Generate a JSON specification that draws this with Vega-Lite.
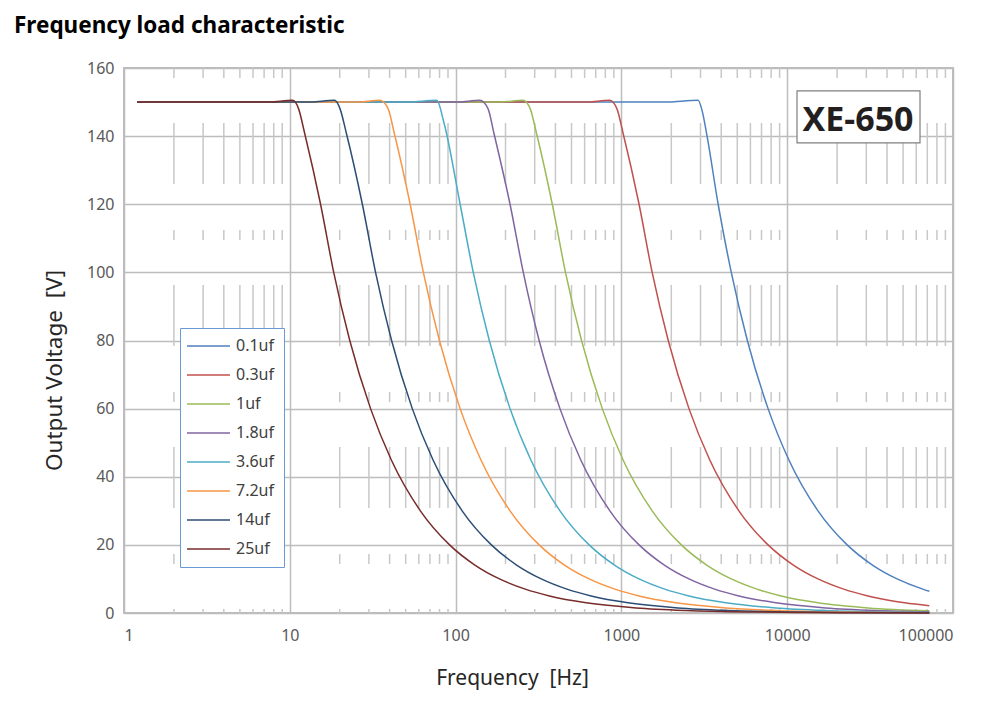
{
  "$schema": "https://vega.github.io/schema/vega-lite/v6.json",
  "autosize": {"type": "none"},
  "padding": {"left": 124, "top": 68, "right": 49, "bottom": 94},
  "width": 829,
  "height": 545,
  "background": "white",
  "title": {
    "text": "Frequency load characteristic",
    "anchor": "start",
    "frame": "group",
    "dx": -110,
    "offset": 23,
    "fontSize": 22.5,
    "fontWeight": "bold",
    "font": "Noto Sans",
    "color": "#000000"
  },
  "layer": [
    {
      "data": {"values": [
        {"m": 2}, {"m": 3}, {"m": 4}, {"m": 5}, {"m": 6}, {"m": 7}, {"m": 8}, {"m": 9},
        {"m": 20}, {"m": 30}, {"m": 40}, {"m": 50}, {"m": 60}, {"m": 70}, {"m": 80}, {"m": 90},
        {"m": 200}, {"m": 300}, {"m": 400}, {"m": 500}, {"m": 600}, {"m": 700}, {"m": 800}, {"m": 900},
        {"m": 2000}, {"m": 3000}, {"m": 4000}, {"m": 5000}, {"m": 6000}, {"m": 7000}, {"m": 8000}, {"m": 9000},
        {"m": 20000}, {"m": 30000}, {"m": 40000}, {"m": 50000}, {"m": 60000}, {"m": 70000}, {"m": 80000}, {"m": 90000}
      ]},
      "mark": {"type": "rule", "color": "#C8C8C8", "strokeWidth": 1.5, "strokeDash": [10, 45, 61, 46]},
      "encoding": {
        "x": {"field": "m", "type": "quantitative", "scale": {"type": "log", "domain": [1, 100000], "nice": false}}
      }
    },
    {
      "data": {"values": [
        {"c": "0.1uf", "f": 1.2, "v": 150}, {"c": "0.1uf", "f": 1840, "v": 150}, {"c": "0.1uf", "f": 2900, "v": 150.5},
        {"c": "0.1uf", "f": 3067, "v": 147.5}, {"c": "0.1uf", "f": 3286, "v": 140}, {"c": "0.1uf", "f": 3833, "v": 120},
        {"c": "0.1uf", "f": 4600, "v": 100}, {"c": "0.1uf", "f": 5750, "v": 80}, {"c": "0.1uf", "f": 7667, "v": 60},
        {"c": "0.1uf", "f": 10222, "v": 45}, {"c": "0.1uf", "f": 15333, "v": 30}, {"c": "0.1uf", "f": 23000, "v": 20},
        {"c": "0.1uf", "f": 32857, "v": 14}, {"c": "0.1uf", "f": 46000, "v": 10}, {"c": "0.1uf", "f": 65714, "v": 7},
        {"c": "0.1uf", "f": 72000, "v": 6.39},

        {"c": "0.3uf", "f": 1.2, "v": 150}, {"c": "0.3uf", "f": 613, "v": 150}, {"c": "0.3uf", "f": 848, "v": 150.5},
        {"c": "0.3uf", "f": 940, "v": 148}, {"c": "0.3uf", "f": 1022, "v": 141}, {"c": "0.3uf", "f": 1278, "v": 120},
        {"c": "0.3uf", "f": 1533, "v": 100}, {"c": "0.3uf", "f": 1917, "v": 80}, {"c": "0.3uf", "f": 2556, "v": 60},
        {"c": "0.3uf", "f": 3407, "v": 45}, {"c": "0.3uf", "f": 5111, "v": 30}, {"c": "0.3uf", "f": 7667, "v": 20},
        {"c": "0.3uf", "f": 10952, "v": 14}, {"c": "0.3uf", "f": 15333, "v": 10}, {"c": "0.3uf", "f": 21905, "v": 7},
        {"c": "0.3uf", "f": 30667, "v": 5}, {"c": "0.3uf", "f": 51111, "v": 3}, {"c": "0.3uf", "f": 72000, "v": 2.13},

        {"c": "1uf", "f": 1.2, "v": 150}, {"c": "1uf", "f": 184, "v": 150}, {"c": "1uf", "f": 255, "v": 150.5},
        {"c": "1uf", "f": 282, "v": 148}, {"c": "1uf", "f": 307, "v": 141}, {"c": "1uf", "f": 383, "v": 120},
        {"c": "1uf", "f": 460, "v": 100}, {"c": "1uf", "f": 575, "v": 80}, {"c": "1uf", "f": 767, "v": 60},
        {"c": "1uf", "f": 1022, "v": 45}, {"c": "1uf", "f": 1533, "v": 30}, {"c": "1uf", "f": 2300, "v": 20},
        {"c": "1uf", "f": 3286, "v": 14}, {"c": "1uf", "f": 4600, "v": 10}, {"c": "1uf", "f": 6571, "v": 7},
        {"c": "1uf", "f": 9200, "v": 5}, {"c": "1uf", "f": 15333, "v": 3}, {"c": "1uf", "f": 30667, "v": 1.5},
        {"c": "1uf", "f": 72000, "v": 0.64},

        {"c": "1.8uf", "f": 1.2, "v": 150}, {"c": "1.8uf", "f": 102, "v": 150}, {"c": "1.8uf", "f": 140, "v": 150.5},
        {"c": "1.8uf", "f": 157, "v": 148}, {"c": "1.8uf", "f": 170, "v": 141}, {"c": "1.8uf", "f": 213, "v": 120},
        {"c": "1.8uf", "f": 256, "v": 100}, {"c": "1.8uf", "f": 319, "v": 80}, {"c": "1.8uf", "f": 426, "v": 60},
        {"c": "1.8uf", "f": 568, "v": 45}, {"c": "1.8uf", "f": 852, "v": 30}, {"c": "1.8uf", "f": 1278, "v": 20},
        {"c": "1.8uf", "f": 1825, "v": 14}, {"c": "1.8uf", "f": 2556, "v": 10}, {"c": "1.8uf", "f": 3651, "v": 7},
        {"c": "1.8uf", "f": 5111, "v": 5}, {"c": "1.8uf", "f": 8519, "v": 3}, {"c": "1.8uf", "f": 17037, "v": 1.5},
        {"c": "1.8uf", "f": 34074, "v": 0.75}, {"c": "1.8uf", "f": 72000, "v": 0.36},

        {"c": "3.6uf", "f": 1.2, "v": 150}, {"c": "3.6uf", "f": 51, "v": 150}, {"c": "3.6uf", "f": 77, "v": 150.5},
        {"c": "3.6uf", "f": 85, "v": 144}, {"c": "3.6uf", "f": 106.5, "v": 120}, {"c": "3.6uf", "f": 127.8, "v": 100},
        {"c": "3.6uf", "f": 159.7, "v": 80}, {"c": "3.6uf", "f": 213, "v": 60}, {"c": "3.6uf", "f": 284, "v": 45},
        {"c": "3.6uf", "f": 426, "v": 30}, {"c": "3.6uf", "f": 639, "v": 20}, {"c": "3.6uf", "f": 913, "v": 14},
        {"c": "3.6uf", "f": 1278, "v": 10}, {"c": "3.6uf", "f": 1825, "v": 7}, {"c": "3.6uf", "f": 2556, "v": 5},
        {"c": "3.6uf", "f": 4259, "v": 3}, {"c": "3.6uf", "f": 8519, "v": 1.5}, {"c": "3.6uf", "f": 17037, "v": 0.75},
        {"c": "3.6uf", "f": 42593, "v": 0.3}, {"c": "3.6uf", "f": 72000, "v": 0.18},

        {"c": "7.2uf", "f": 1.2, "v": 150}, {"c": "7.2uf", "f": 25.6, "v": 150}, {"c": "7.2uf", "f": 34.9, "v": 150.5},
        {"c": "7.2uf", "f": 39.2, "v": 148}, {"c": "7.2uf", "f": 42.6, "v": 141}, {"c": "7.2uf", "f": 53.2, "v": 120},
        {"c": "7.2uf", "f": 63.9, "v": 100}, {"c": "7.2uf", "f": 79.9, "v": 80}, {"c": "7.2uf", "f": 106.5, "v": 60},
        {"c": "7.2uf", "f": 142, "v": 45}, {"c": "7.2uf", "f": 213, "v": 30}, {"c": "7.2uf", "f": 319, "v": 20},
        {"c": "7.2uf", "f": 456, "v": 14}, {"c": "7.2uf", "f": 639, "v": 10}, {"c": "7.2uf", "f": 913, "v": 7},
        {"c": "7.2uf", "f": 1278, "v": 5}, {"c": "7.2uf", "f": 2130, "v": 3}, {"c": "7.2uf", "f": 4259, "v": 1.5},
        {"c": "7.2uf", "f": 8519, "v": 0.75}, {"c": "7.2uf", "f": 21296, "v": 0.3}, {"c": "7.2uf", "f": 42593, "v": 0.15},
        {"c": "7.2uf", "f": 72000, "v": 0.09},

        {"c": "14uf", "f": 1.2, "v": 150}, {"c": "14uf", "f": 13.1, "v": 150}, {"c": "14uf", "f": 18.6, "v": 150.5},
        {"c": "14uf", "f": 20.1, "v": 148}, {"c": "14uf", "f": 21.9, "v": 141}, {"c": "14uf", "f": 27.4, "v": 120},
        {"c": "14uf", "f": 32.9, "v": 100}, {"c": "14uf", "f": 41.1, "v": 80}, {"c": "14uf", "f": 54.8, "v": 60},
        {"c": "14uf", "f": 73, "v": 45}, {"c": "14uf", "f": 109.5, "v": 30}, {"c": "14uf", "f": 164.3, "v": 20},
        {"c": "14uf", "f": 234.6, "v": 14}, {"c": "14uf", "f": 328.6, "v": 10}, {"c": "14uf", "f": 469.3, "v": 7},
        {"c": "14uf", "f": 657, "v": 5}, {"c": "14uf", "f": 1095, "v": 3}, {"c": "14uf", "f": 2190, "v": 1.5},
        {"c": "14uf", "f": 4381, "v": 0.75}, {"c": "14uf", "f": 10952, "v": 0.3}, {"c": "14uf", "f": 21905, "v": 0.15},
        {"c": "14uf", "f": 72000, "v": 0.05},

        {"c": "25uf", "f": 1.2, "v": 150}, {"c": "25uf", "f": 7.4, "v": 150}, {"c": "25uf", "f": 10.4, "v": 150.5},
        {"c": "25uf", "f": 11.3, "v": 148}, {"c": "25uf", "f": 12.27, "v": 141}, {"c": "25uf", "f": 15.33, "v": 120},
        {"c": "25uf", "f": 18.4, "v": 100}, {"c": "25uf", "f": 23, "v": 80}, {"c": "25uf", "f": 30.7, "v": 60},
        {"c": "25uf", "f": 40.9, "v": 45}, {"c": "25uf", "f": 61.3, "v": 30}, {"c": "25uf", "f": 92, "v": 20},
        {"c": "25uf", "f": 131.4, "v": 14}, {"c": "25uf", "f": 184, "v": 10}, {"c": "25uf", "f": 263, "v": 7},
        {"c": "25uf", "f": 368, "v": 5}, {"c": "25uf", "f": 613, "v": 3}, {"c": "25uf", "f": 1227, "v": 1.5},
        {"c": "25uf", "f": 2453, "v": 0.75}, {"c": "25uf", "f": 6133, "v": 0.3}, {"c": "25uf", "f": 12267, "v": 0.15},
        {"c": "25uf", "f": 24533, "v": 0.08}, {"c": "25uf", "f": 72000, "v": 0.03}
      ]},
      "mark": {"type": "line", "interpolate": "monotone", "strokeWidth": 1.5},
      "encoding": {
        "x": {
          "field": "f",
          "type": "quantitative",
          "scale": {"type": "log", "domain": [1, 100000], "nice": false},
          "axis": {
            "title": "Frequency\u00a0 [Hz]",
            "values": [1, 10, 100, 1000, 10000, 100000],
            "format": "d",
            "grid": true,
            "gridColor": "#BDBDBD",
            "gridWidth": 1.5,
            "ticks": false,
            "tickSize": 0,
            "domain": false,
            "labelFont": "Noto Sans",
            "labelFontSize": 16,
            "labelColor": "#595959",
            "labelPadding": 14,
            "titleFont": "Noto Sans",
            "titleFontSize": 21,
            "titleFontWeight": "normal",
            "titleColor": "#262626",
            "titleX": 388,
            "titleY": 71,
            "titleBaseline": "alphabetic"
          }
        },
        "y": {
          "field": "v",
          "type": "quantitative",
          "scale": {"domain": [0, 160], "nice": false},
          "axis": {
            "title": "Output Voltage\u00a0 [V]",
            "values": [0, 20, 40, 60, 80, 100, 120, 140, 160],
            "grid": true,
            "gridColor": "#BDBDBD",
            "gridWidth": 1.5,
            "ticks": false,
            "tickSize": 0,
            "domain": false,
            "labelFont": "Noto Sans",
            "labelFontSize": 16,
            "labelColor": "#595959",
            "labelPadding": 10,
            "titleFont": "Noto Sans",
            "titleFontSize": 22.5,
            "titleFontWeight": "normal",
            "titleColor": "#262626",
            "titleAngle": 270,
            "titleX": -63,
            "titleY": 302,
            "titleAlign": "center",
            "titleBaseline": "alphabetic"
          }
        },
        "color": {
          "field": "c",
          "type": "nominal",
          "sort": null,
          "scale": {
            "domain": ["0.1uf", "0.3uf", "1uf", "1.8uf", "3.6uf", "7.2uf", "14uf", "25uf"],
            "range": ["#4F81BD", "#C0504D", "#9BBB59", "#8064A2", "#4BACC6", "#F79646", "#2C4D75", "#772C2A"]
          },
          "legend": {
            "title": null,
            "orient": "none",
            "legendX": 56,
            "legendY": 260,
            "symbolType": "M-3,0H3",
            "symbolSize": 205,
            "symbolStrokeWidth": 1.5,
            "symbolOffset": 10.5,
            "labelOffset": 19.5,
            "labelFont": "Noto Sans",
            "labelFontSize": 16,
            "labelColor": "#404040",
            "rowPadding": 13,
            "padding": 10,
            "strokeColor": "#6A9AD4",
            "fillColor": "white"
          }
        }
      }
    },
    {
      "data": {"values": [{"t": "XE-650"}]},
      "mark": {"type": "rect", "fill": "white", "stroke": "#7F7F7F", "strokeWidth": 1.2},
      "encoding": {
        "x": {"datum": 11460, "type": "quantitative"},
        "x2": {"datum": 63240},
        "y": {"datum": 153.3, "type": "quantitative"},
        "y2": {"datum": 138.0}
      }
    },
    {
      "data": {"values": [{"t": "XE-650"}]},
      "mark": {"type": "text", "font": "Noto Sans", "fontSize": 34, "fontWeight": "bold", "color": "#231F20", "align": "center", "baseline": "alphabetic"},
      "encoding": {
        "x": {"datum": 26740, "type": "quantitative"},
        "y": {"datum": 141.5, "type": "quantitative"},
        "text": {"field": "t"}
      }
    }
  ],
  "config": {
    "view": {"stroke": "#BDBDBD", "strokeWidth": 2},
    "font": "Noto Sans"
  }
}
